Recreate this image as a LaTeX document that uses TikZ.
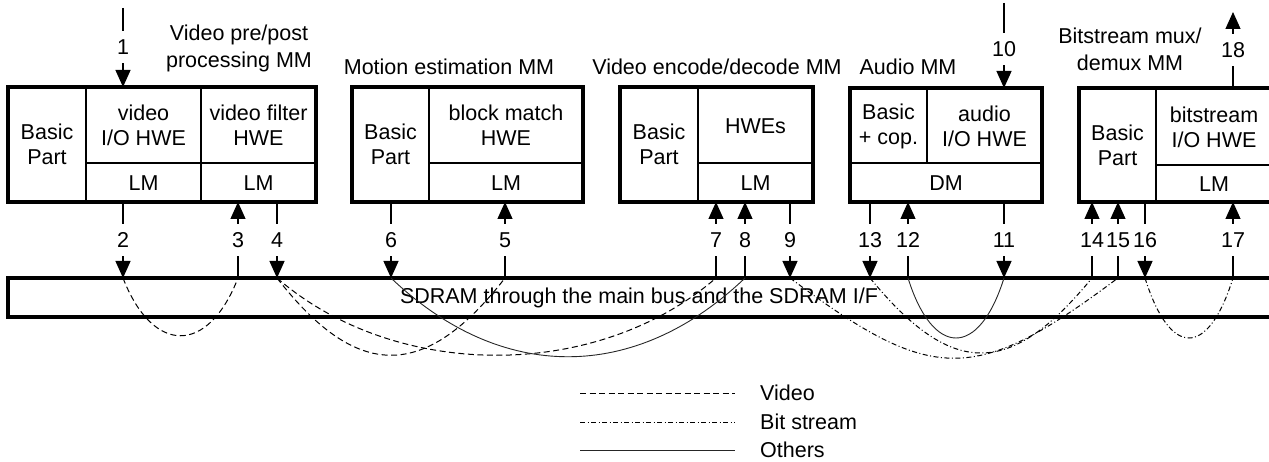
\documentclass[tikz,border=0pt]{standalone}
\usepackage{fontspec}
\setmainfont{Liberation Sans}
\usetikzlibrary{arrows.meta}
\tikzset{
  txt/.style={font=\fontsize{21.5}{25}\selectfont, align=center, inner sep=0pt},
  ttl/.style={font=\fontsize{21.5}{27}\selectfont, align=center, inner sep=0pt},
  mmbox/.style={draw, line width=3.3pt, anchor=north west, inner sep=0pt, outer sep=0pt},
  div/.style={line width=1.8pt},
  arr/.style={line width=1.2pt, -{Triangle[width=15pt,length=17pt]}},
  num/.style={txt, fill=white, minimum height=32pt, inner xsep=1pt},
  video/.style={line width=1pt, dash pattern=on 6pt off 3.5pt},
  bits/.style={line width=1pt, dash pattern=on 5pt off 2.5pt on 1pt off 2.5pt},
  others/.style={line width=0.9pt, black!85},
}
\begin{document}
\begin{tikzpicture}[x=1pt, y=-1pt]
\useasboundingbox (0,0) rectangle (1269,462);
\clip (0,0) rectangle (1269,462);

% ---- module boxes
\node[mmbox, minimum width=308pt, minimum height=115pt] (mm1) at (8,87) {};
\draw[div] (86,87) -- (86,202) (201,87) -- (201,202) (86,163) -- (316,163);
\node[mmbox, minimum width=231pt, minimum height=115pt] (mm2) at (352,87) {};
\draw[div] (429,87) -- (429,202) (429,163) -- (583,163);
\node[mmbox, minimum width=193pt, minimum height=115pt] (mm3) at (620,87) {};
\draw[div] (698,87) -- (698,202) (698,163) -- (813,163);
\node[mmbox, minimum width=192pt, minimum height=114pt] (mm4) at (850,88) {};
\draw[div] (927,88) -- (927,163) (850,163) -- (1042,163);
\node[mmbox, minimum width=193pt, minimum height=114pt] (mm5) at (1079,88) {};
\draw[div] (1156,88) -- (1156,202) (1156,165) -- (1272,165);

% ---- cell texts
\node[txt] (bp1) at (47,144) {Basic\\Part};
\node[txt] (vio) at (143.5,125) {video\\I/O HWE};
\node[txt] (vfl) at (258.5,125) {video filter\\HWE};
\node[txt] (lm1a) at (143.5,183) {LM};
\node[txt] (lm1b) at (258.5,183) {LM};
\node[txt] (bp2) at (390.5,144) {Basic\\Part};
\node[txt] (bmh) at (506,125) {block match\\HWE};
\node[txt] (lm2) at (506,183) {LM};
\node[txt] (bp3) at (659,144) {Basic\\Part};
\node[txt] (hwes) at (755.5,126) {HWEs};
\node[txt] (lm3) at (755.5,183) {LM};
\node[txt] (bp4) at (888.5,126) {Basic\\+ cop.};
\node[txt] (aio) at (984.5,126) {audio\\I/O HWE};
\node[txt] (dm4) at (946,183) {DM};
\node[txt] (bp5) at (1117.5,145) {Basic\\Part};
\node[txt] (bio) at (1214,127) {bitstream\\I/O HWE};
\node[txt] (lm5) at (1214,184) {LM};

% ---- titles
\node[ttl] (ti1) at (239,48) {Video pre/post\\processing MM};
\node[ttl] (ti2) at (449,67) {Motion estimation MM};
\node[ttl] (ti3) at (717,67) {Video encode/decode MM};
\node[ttl] (ti4) at (908,67) {Audio MM};
\node[ttl] (ti5) at (1130,49) {Bitstream mux/\\demux MM};

% ---- SDRAM bus
\node[mmbox, minimum width=1280pt, minimum height=39pt] (bus) at (8,278) {};
\node[txt] (bustxt) at (639,298) {SDRAM through the main bus and the SDRAM I/F};

% ---- connector end points
\foreach \n/\x in {2/123,3/238,4/277,6/391,5/505,7/716,8/745,9/790,13/870,12/908,11/1004,14/1092,15/1118,16/1145,17/1233}{
  \coordinate (m\n) at (\x,202);
  \coordinate (s\n) at (\x,278);
}
\coordinate (src1) at (123,8);   \coordinate (in1) at (123,87);
\coordinate (src10) at (1004,3); \coordinate (in10) at (1004,88);
\coordinate (out18) at (1233,88); \coordinate (dst18) at (1233,12);

% ---- external arrows
\draw[arr] (src1) -- node[num] (n1) {1} (in1);
\draw[arr] (src10) -- node[num, pos=0.54] (n10) {10} (in10);
\draw[arr] (out18) -- node[num] (n18) {18} (dst18);

% ---- module -> bus arrows (down)
\foreach \n in {2,4,6,9,13,11,16}{
  \draw[arr] (m\n) -- node[num] (n\n) {\n} (s\n);
}
% ---- bus -> module arrows (up)
\foreach \n in {3,5,7,8,12,14,15,17}{
  \draw[arr] (s\n) -- node[num] (n\n) {\n} (m\n);
}

% ---- data transfer curves
\draw[video] (s2) .. controls (153,355) and (208,355) .. (s3);
\draw[video] (s4) .. controls (357,381) and (425,381) .. (s5);
\draw[video] (s4) .. controls (396,381) and (597,381) .. (s7);
\draw[others] (s6) .. controls (501,383) and (635,383) .. (s8);
\draw[bits] (s9) .. controls (933,385) and (975,385) .. (s15);
\draw[bits] (s13) .. controls (952,378) and (1010,378) .. (s14);
\draw[others] (s12) .. controls (933,358) and (979,358) .. (s11);
\draw[bits] (s16) .. controls (1170,358) and (1208,358) .. (s17);

% ---- legend
\coordinate (lv1) at (580,393); \coordinate (lv2) at (735,393);
\coordinate (lb1) at (580,422); \coordinate (lb2) at (735,422);
\coordinate (lo1) at (580,450); \coordinate (lo2) at (735,450);
\draw[video] (lv1) -- (lv2);
\draw[bits] (lb1) -- (lb2);
\draw[others] (lo1) -- (lo2);
\node[txt, anchor=west] (lvt) at (760,393) {Video};
\node[txt, anchor=west] (lbt) at (760,422) {Bit stream};
\node[txt, anchor=west] (lot) at (760,450) {Others};
\end{tikzpicture}
\end{document}
